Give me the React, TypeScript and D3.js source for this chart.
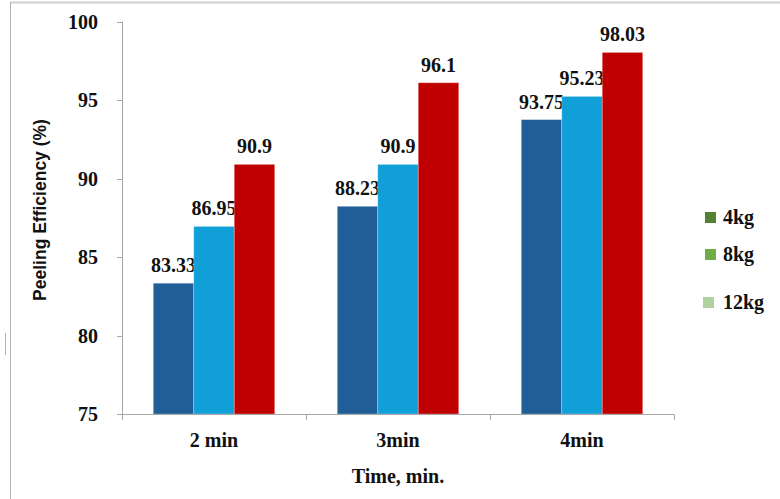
import React from "react";
import * as d3 from "d3";

const categories = ["2 min", "3min", "4min"];
const seriesNames = ["4kg", "8kg", "12kg"];
const values4kg = [83.33, 88.23, 93.75];
const values8kg = [86.95, 90.9, 95.23];
const values12kg = [90.9, 96.1, 98.03];
const yTicks = [75, 80, 85, 90, 95, 100];
const barColors = ["#215E98", "#119FD7", "#C00000"];
const legendColors = ["#548235", "#70AD47", "#B0D2A0"];

export default function App() {
  const W = 780, H = 499;
  const series = [values4kg, values8kg, values12kg];
  const x0 = d3.scaleBand<string>().domain(categories).range([122, 674]).padding(0);
  const bw = x0.bandwidth();
  const x1 = d3.scaleBand<string>().domain(seriesNames).range([bw * 0.17, bw * 0.83]).padding(0);
  const y = d3.scaleLinear().domain([75, 100]).range([414, 21.5]);
  const serif = "Liberation Serif";
  const axisColor = "#A6A6A6";
  const legendY = [217, 254, 302];
  const legendX = [705, 705, 703];

  return (
    <svg width={W} height={H} style={{ position: "absolute", left: 0, top: 0, background: "#fff" }}>
      {/* frame */}
      <line x1={10} x2={780} y1={2.5} y2={2.5} stroke="#D0D0D0" strokeWidth={2} />
      <line x1={10.5} x2={10.5} y1={2} y2={499} stroke="#B0B0B0" strokeWidth={1} />
      <line x1={5.5} x2={5.5} y1={333} y2={355} stroke="#B0B0B0" strokeWidth={1} />

      {/* bars */}
      {categories.map((c, ci) =>
        seriesNames.map((s, si) => {
          const v = series[si][ci];
          const bx = (x0(c) as number) + (x1(s) as number);
          const w = x1.bandwidth();
          return (
            <g key={c + s}>
              <rect x={bx} y={y(v)} width={w} height={y(75) - y(v)} fill={barColors[si]} stroke="#ffffff" strokeOpacity={0.35} strokeWidth={0.8} />
              <text x={bx + w / 2} y={y(v) - 11} textAnchor="middle" fontFamily={serif} fontWeight="bold" fontSize={20} fill="#111">
                {String(v)}
              </text>
            </g>
          );
        })
      )}

      {/* y axis */}
      <line x1={122.5} x2={122.5} y1={y(100)} y2={y(75)} stroke={axisColor} />
      {yTicks.map((t) => (
        <g key={t}>
          <line x1={117} x2={122.5} y1={Math.round(y(t)) + 0.5} y2={Math.round(y(t)) + 0.5} stroke={axisColor} />
          <text x={98} y={y(t)} dy="0.35em" textAnchor="end" fontFamily={serif} fontWeight="bold" fontSize={20} fill="#111">
            {t}
          </text>
        </g>
      ))}

      {/* x axis */}
      <line x1={122} x2={674.5} y1={414.5} y2={414.5} stroke={axisColor} />
      {[...categories.map((c) => x0(c) as number), 674].map((p, i) => (
        <line key={i} x1={Math.round(p) + 0.5} x2={Math.round(p) + 0.5} y1={414.5} y2={420} stroke={axisColor} />
      ))}
      {categories.map((c) => (
        <text key={c} x={(x0(c) as number) + bw / 2} y={447} textAnchor="middle" fontFamily={serif} fontWeight="bold" fontSize={20} fill="#111">
          {c}
        </text>
      ))}

      {/* axis titles */}
      <text x={398} y={483} textAnchor="middle" fontFamily={serif} fontWeight="bold" fontSize={20} fill="#111">
        Time, min.
      </text>
      <text transform={`translate(46,${210}) rotate(-90)`} textAnchor="middle" fontFamily="Liberation Sans" fontWeight="bold" fontSize={17.5} fill="#111">
        Peeling Efficiency (%)
      </text>

      {/* legend */}
      {seriesNames.map((s, i) => (
        <g key={s}>
          <rect x={legendX[i]} y={legendY[i] - 5} width={11} height={11} fill={legendColors[i]} />
          <text x={723} y={legendY[i] + 7} fontFamily={serif} fontWeight="bold" fontSize={20} fill="#111">
            {s}
          </text>
        </g>
      ))}
    </svg>
  );
}
